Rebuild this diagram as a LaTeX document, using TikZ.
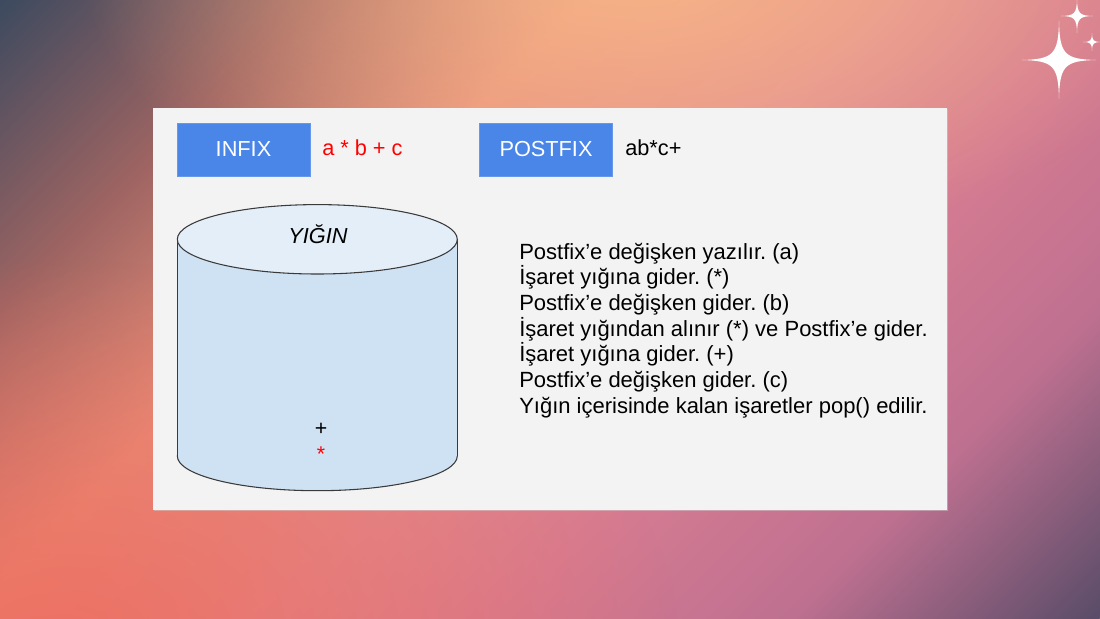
\documentclass[tikz,border=0pt]{standalone}
\usepackage{fontspec}
\setmainfont{Liberation Sans}
\usetikzlibrary{fadings}
\frenchspacing
\definecolor{ca}{HTML}{3C4A5F}
\definecolor{cb}{HTML}{9E6462}
\definecolor{cc}{HTML}{E8907A}
\definecolor{cd}{HTML}{E08A92}
\definecolor{ce}{HTML}{D67C92}
\definecolor{cf}{HTML}{BE7090}
\definecolor{cg}{HTML}{584C68}
\definecolor{peach}{HTML}{F9B98A}
\definecolor{coral}{HTML}{EE6C5E}
\definecolor{panelbg}{HTML}{F3F3F3}
\definecolor{boxblue}{HTML}{4A86E8}
\definecolor{cylbody}{HTML}{CFE2F3}
\definecolor{cyltop}{HTML}{E4EEF8}
\definecolor{cylline}{HTML}{3A3A3A}
\definecolor{redtxt}{HTML}{FF0000}
\tikzfading[name=softglow, inner color=transparent!0, outer color=transparent!100]
\pgfdeclarehorizontalshading{bggrad}{100bp}{color(0bp)=(ca); color(25bp)=(ca); color(34bp)=(cb); color(42bp)=(cc); color(51bp)=(cd); color(57.5bp)=(ce); color(66bp)=(cf); color(75bp)=(cg); color(100bp)=(cg)}
\tikzset{
  opbox/.style={fill=boxblue, draw=boxblue!85!white, line width=0.4pt, text=white, minimum width=99.75pt, minimum height=39.75pt, inner sep=0pt, font=\fontsize{16.3}{19}\selectfont},
  expr/.style={anchor=base west, inner sep=0pt, font=\fontsize{16.3}{19}\selectfont},
  stepline/.style={anchor=base west, inner sep=0pt, font=\fontsize{16.5}{19}\selectfont},
  sym/.style={anchor=base, inner sep=0pt, font=\fontsize{16}{19}\selectfont},
  sparkle/.pic={\fill[white] (0,-1) .. controls (0.02,-0.15) and (0.15,-0.02) .. (1,0) .. controls (0.15,0.02) and (0.02,0.15) .. (0,1) .. controls (-0.02,0.15) and (-0.15,0.02) .. (-1,0) .. controls (-0.15,-0.02) and (-0.02,-0.15) .. cycle;}
}
\begin{document}
\begin{tikzpicture}[x=0.75pt,y=-0.75pt]
\useasboundingbox (0,0) rectangle (1100,618);
% background
\begin{scope}
  \clip (0,0) rectangle (1100,618);
  \begin{scope}[transform canvas={rotate=-45}]
    \shade[shading=bggrad] (0,-1000) rectangle (1215,1000);
  \end{scope}
  \fill[coral, path fading=softglow, fill opacity=0.85] (60,640) ellipse [x radius=620, y radius=380];
  \fill[peach, path fading=softglow, fill opacity=0.9] (640,-40) ellipse [x radius=560, y radius=300];
\end{scope}
% sparkles
\pic[xscale=37, yscale=39] at (1059,60) {sparkle};
\pic[xscale=16, yscale=17] at (1077,16) {sparkle};
\pic[xscale=9, yscale=9] at (1092,42) {sparkle};
% panel
\fill[black!20, opacity=0.5] (154,109) rectangle (948,511);
\fill[panelbg] (153,108) rectangle (947,510);
% header boxes
\node[opbox] (infix) at (243.5,149.5) {INFIX};
\node[expr, text=redtxt] (infixexpr) at (322,155) {a * b + c};
\node[opbox] (postfix) at (546,149.5) {POSTFIX};
\node[expr] (postfixexpr) at (625,155) {ab*c+};
% cylinder
\filldraw[fill=cylbody, draw=cylline, line width=0.8pt] (317.3,456) ellipse [x radius=140, y radius=34.7];
\fill[cylbody] (177.3,239.3) rectangle (457.3,456);
\draw[cylline, line width=0.8pt] (177.3,239.3) -- (177.3,456);
\draw[cylline, line width=0.8pt] (457.3,239.3) -- (457.3,456);
\filldraw[fill=cyltop, draw=cylline, line width=0.8pt] (317.3,239.3) ellipse [x radius=140, y radius=34.7];
\node[sym, font=\fontsize{16.3}{19}\selectfont\itshape] (yigin) at (318,243) {YIĞIN};
\node[sym] (plus) at (321,435.5) {+};
\node[sym, text=redtxt] (star) at (321,461.5) {*};
% steps
\node[stepline] (l1) at (519,259) {Postfix’e değişken yazılır. (a)};
\node[stepline] (l2) at (519,284.7) {İşaret yığına gider. (*)};
\node[stepline] (l3) at (519,310.4) {Postfix’e değişken gider. (b)};
\node[stepline] (l4) at (519,336.1) {İşaret yığından alınır (*) ve Postfix’e gider.};
\node[stepline] (l5) at (519,361.8) {İşaret yığına gider. (+)};
\node[stepline] (l6) at (519,387.5) {Postfix’e değişken gider. (c)};
\node[stepline] (l7) at (519,413.2) {Yığın içerisinde kalan işaretler pop() edilir.};
\end{tikzpicture}
\end{document}
